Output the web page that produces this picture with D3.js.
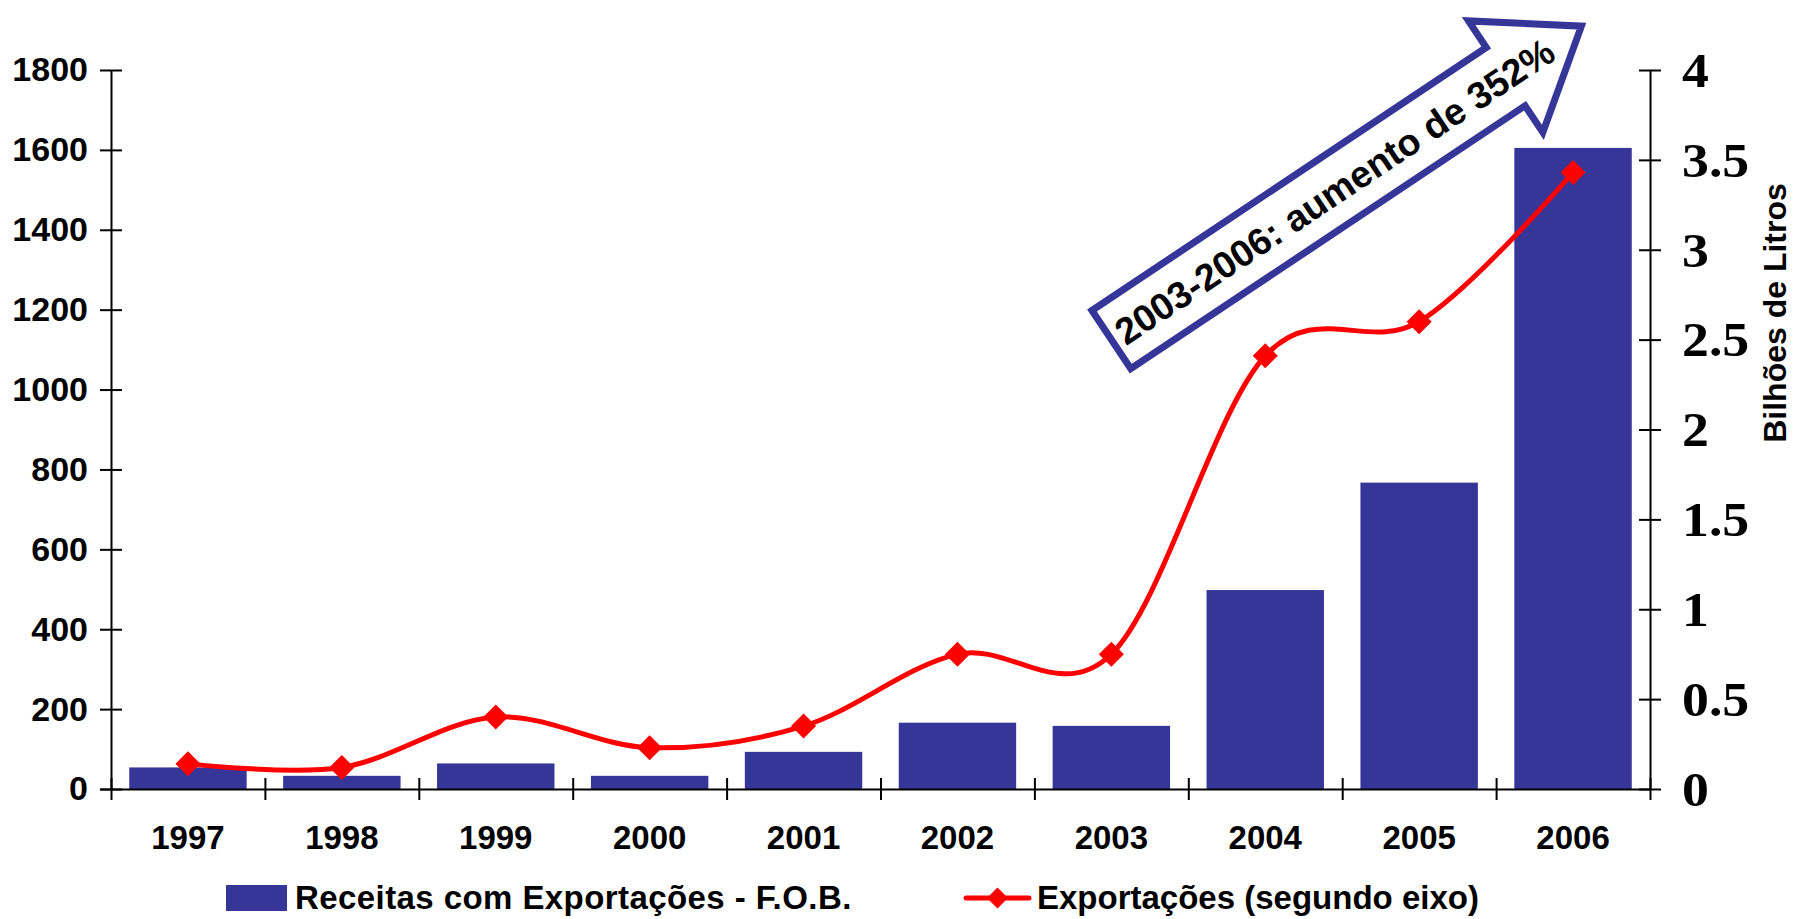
<!DOCTYPE html>
<html>
<head>
<meta charset="utf-8">
<script src="https://cdn.jsdelivr.net/npm/d3@7"></script>
<style>
  body { margin: 0; background: #ffffff; }
  svg { display: block; }
  text { font-family: "Liberation Sans", Arial, sans-serif; font-weight: bold; fill: #000; }
</style>
</head>
<body>
<svg id="chart" width="1794" height="919"></svg>
<script>
// Exportações brasileiras de etanol, 1997-2006
const years = ["1997", "1998", "1999", "2000", "2001", "2002", "2003", "2004", "2005", "2006"];
// Receitas com exportações, US$ milhões F.O.B. (eixo esquerdo)
const receitas = [54, 33, 64, 33, 93, 166, 158, 498, 767, 1605];
// Volume exportado, bilhões de litros (eixo direito)
const volumes = [0.14, 0.12, 0.40, 0.23, 0.35, 0.75, 0.75, 2.41, 2.60, 3.43];

const leftTicks = [0, 200, 400, 600, 800, 1000, 1200, 1400, 1600, 1800];
const rightTicks = [0, 0.5, 1, 1.5, 2, 2.5, 3, 3.5, 4];
const rightTickLabels = ["0", "0.5", "1", "1.5", "2", "2.5", "3", "3.5", "4"];

const legendLabels = ["Receitas com Exportações - F.O.B.", "Exportações (segundo eixo)"];
const rightAxisTitle = "Bilhões de Litros";
const calloutText = "2003-2006: aumento de 352%";

const BAR_COLOR = "#363699";
const LINE_COLOR = "#ff0000";

const plot = { left: 111, right: 1650, top: 70, bottom: 789 };
const svg = d3.select("#chart");

const x = d3.scaleBand()
  .domain(years)
  .range([plot.left, plot.right])
  .paddingInner(0.237)
  .paddingOuter(0.1185);
const xEdge = d3.scaleLinear().domain([0, years.length]).range([plot.left, plot.right]);
const yL = d3.scaleLinear().domain([0, 1800]).range([plot.bottom, plot.top]);
const yR = d3.scaleLinear().domain([0, 4]).range([plot.bottom, plot.top]);
const cx = d => x(d) + x.bandwidth() / 2;

// bars: export revenue
svg.append("g")
  .selectAll("rect")
  .data(years)
  .join("rect")
  .attr("x", d => x(d))
  .attr("width", x.bandwidth())
  .attr("y", (d, i) => yL(receitas[i]))
  .attr("height", (d, i) => yL(0) - yL(receitas[i]))
  .attr("fill", BAR_COLOR);

// axes with ticks crossing the axis line
const TICK = 11;
function crossTicks(g, horizontal) {
  g.select(".domain").attr("stroke", "#000").attr("stroke-width", 2);
  g.selectAll(".tick line").attr("stroke", "#000").attr("stroke-width", 2);
  if (horizontal) g.selectAll(".tick line").attr("x1", -TICK).attr("x2", TICK);
  else g.selectAll(".tick line").attr("y1", -TICK).attr("y2", TICK);
}

const gLeft = svg.append("g")
  .attr("transform", `translate(${plot.left},0)`)
  .call(d3.axisLeft(yL).tickValues(leftTicks).tickSize(TICK).tickSizeOuter(0).tickPadding(12).tickFormat(d3.format("d")));
crossTicks(gLeft, true);
gLeft.selectAll(".tick text")
  .style("font-family", '"Liberation Sans", Arial, sans-serif')
  .style("font-weight", "bold")
  .style("font-size", "34px")
  .attr("fill", "#000");

const gRight = svg.append("g")
  .attr("transform", `translate(${plot.right},0)`)
  .call(d3.axisRight(yR).tickValues(rightTicks).tickSize(TICK).tickSizeOuter(0).tickPadding(21)
    .tickFormat((d, i) => rightTickLabels[i]));
crossTicks(gRight, true);
gRight.selectAll(".tick text")
  .attr("x", 0)
  .attr("transform", `translate(${TICK + 21},0) scale(1.12,1)`)
  .attr("dy", "0.34em")
  .style("font-family", '"Liberation Serif", "Times New Roman", serif')
  .style("font-weight", "bold")
  .style("font-size", "48px")
  .attr("fill", "#000");

const gBottom = svg.append("g")
  .attr("transform", `translate(0,${plot.bottom})`)
  .call(d3.axisBottom(xEdge).tickValues(d3.range(years.length + 1)).tickSize(TICK).tickSizeOuter(0).tickFormat(""));
crossTicks(gBottom, false);
gBottom.select(".domain").attr("d", `M${plot.left - TICK},0.5H${plot.right}`);

const gLabels = svg.append("g")
  .attr("transform", `translate(0,${plot.bottom})`)
  .call(d3.axisBottom(x).tickSize(0).tickPadding(37));
gLabels.select(".domain").remove();
gLabels.selectAll(".tick text")
  .style("font-family", '"Liberation Sans", Arial, sans-serif')
  .style("font-weight", "bold")
  .style("font-size", "33px")
  .attr("fill", "#000");

// right axis title
svg.append("text")
  .attr("transform", "translate(1786,313) rotate(-90)")
  .attr("text-anchor", "middle")
  .style("font-size", "32px")
  .text(rightAxisTitle);

// smoothed volume line with diamond markers
const line = d3.line()
  .x((d, i) => cx(years[i]))
  .y(d => yR(d))
  .curve(d3.curveCardinal.tension(0));

svg.append("path")
  .datum(volumes)
  .attr("d", line)
  .attr("fill", "none")
  .attr("stroke", LINE_COLOR)
  .attr("stroke-width", 5)
  .attr("stroke-linejoin", "round")
  .attr("stroke-linecap", "round");

const diamond = d3.symbol(d3.symbolSquare, 313);
svg.append("g")
  .selectAll("path")
  .data(volumes)
  .join("path")
  .attr("d", diamond)
  .attr("transform", (d, i) => `translate(${cx(years[i])},${yR(d)}) rotate(45)`)
  .attr("fill", LINE_COLOR);

// callout arrow, tail anchored at 2003 / 2.5 bilhões
const arrow = { length: 565, shaft: 70, head: 134, headLen: 91, angle: -33.7, textAt: 268 };
const gArrow = svg.append("g")
  .attr("transform", `translate(${cx("2003")},${yR(2.5)}) rotate(${arrow.angle})`);
const a = arrow, hb = a.length - a.headLen;
gArrow.append("path")
  .attr("d", `M0,${-a.shaft / 2}L${hb},${-a.shaft / 2}L${hb},${-a.head / 2}L${a.length},0` +
             `L${hb},${a.head / 2}L${hb},${a.shaft / 2}L0,${a.shaft / 2}Z`)
  .attr("fill", "#fff")
  .attr("stroke", BAR_COLOR)
  .attr("stroke-width", 7)
  .attr("stroke-linejoin", "miter");
gArrow.append("text")
  .attr("x", a.textAt)
  .attr("y", 0)
  .attr("dy", "0.36em")
  .attr("text-anchor", "middle")
  .style("font-size", "37.5px")
  .text(calloutText);

// legend
const gLeg = svg.append("g");
gLeg.append("rect")
  .attr("x", 226).attr("y", 885).attr("width", 61).attr("height", 26)
  .attr("fill", BAR_COLOR);
gLeg.append("text")
  .attr("x", 295).attr("y", 909)
  .style("font-size", "33px")
  .style("letter-spacing", "0.42px")
  .text(legendLabels[0]);
gLeg.append("line")
  .attr("x1", 966).attr("x2", 1029).attr("y1", 898).attr("y2", 898)
  .attr("stroke", LINE_COLOR).attr("stroke-width", 5).attr("stroke-linecap", "round");
gLeg.append("path")
  .attr("d", d3.symbol(d3.symbolSquare, 220))
  .attr("transform", "translate(997.5,898) rotate(45)")
  .attr("fill", LINE_COLOR);
gLeg.append("text")
  .attr("x", 1037).attr("y", 909)
  .style("font-size", "33px")
  .text(legendLabels[1]);
</script>
</body>
</html>
